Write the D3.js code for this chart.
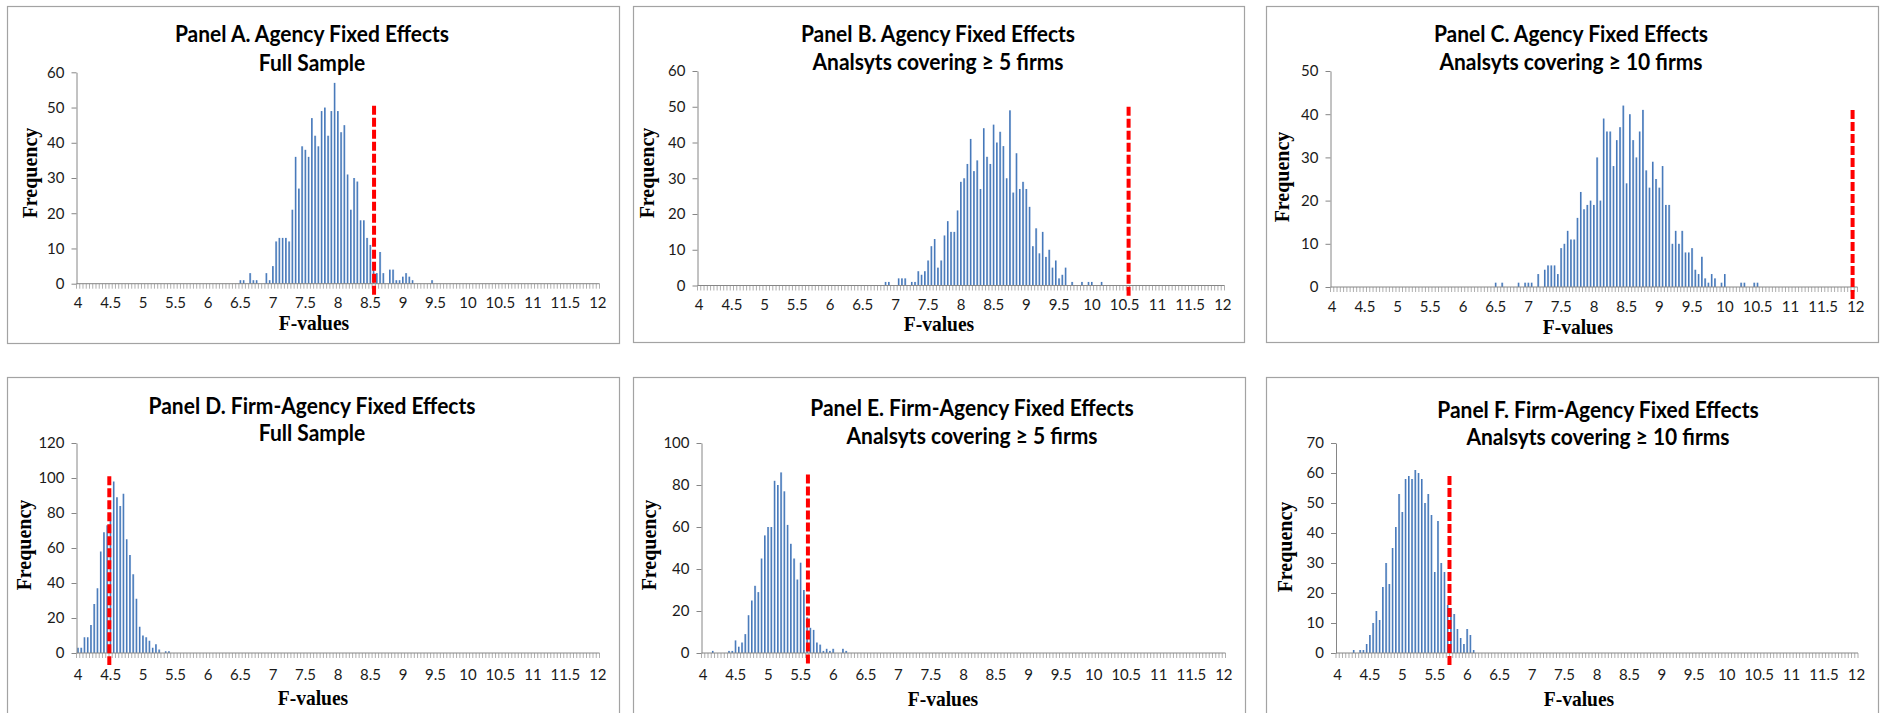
<!DOCTYPE html>
<html>
<head>
<meta charset="utf-8">
<script src="https://cdn.jsdelivr.net/npm/d3@7/dist/d3.min.js"></script>
<style>
	body { margin: 0; background: #ffffff; }
</style>
</head>
<body>
<div id="chart"></div>
<script>
// histogram bins: 4.00 ... 12.00, width 0.05 (161 categories)
var binStart = 4;
var binWidth = 0.05;
var binCount = 161;
var xTickLabels = ["4", "4.5", "5", "5.5", "6", "6.5", "7", "7.5", "8", "8.5", "9", "9.5", "10", "10.5", "11", "11.5", "12"];

var titles = [
	"Panel A. Agency Fixed Effects",
	"Panel B. Agency Fixed Effects",
	"Panel C. Agency Fixed Effects",
	"Panel D. Firm-Agency Fixed Effects",
	"Panel E. Firm-Agency Fixed Effects",
	"Panel F. Firm-Agency Fixed Effects"
];
var subtitles = [
	"Full Sample",
	"Analsyts covering \u2265 5 firms",
	"Analsyts covering \u2265 10 firms",
	"Full Sample",
	"Analsyts covering \u2265 5 firms",
	"Analsyts covering \u2265 10 firms"
];
var yMax = [60, 60, 50, 120, 100, 70];
var yStep = [10, 10, 10, 20, 20, 10];

// frequencies, listed from the first non-empty bin of each panel
var firstBin = [6.50, 6.85, 6.50, 4.00, 4.15, 4.25];
var countsA = [1, 1, 0, 3, 1, 1, 0, 0, 3, 1, 5, 12, 13, 13, 13, 12, 21, 36, 27, 39, 38, 36, 47, 42, 39, 49, 50, 42, 49, 57,
	49, 43, 45, 31, 21, 30, 29, 18, 18, 13, 11, 6, 3, 9, 3, 0, 4, 4, 1, 1, 2, 3, 2, 1, 0, 0, 0, 0, 0, 1];
var countsB = [1, 1, 0, 0, 2, 2, 2, 0, 1, 1, 4, 3, 4, 7, 11, 13, 5, 7, 14, 18, 15, 15, 21, 29, 30, 34, 41, 32, 35, 27,
	44, 36, 34, 45, 40, 43, 39, 30, 49, 26, 37, 27, 29, 27, 22, 11, 16, 9, 15, 8, 10, 5, 7, 2, 3, 5, 0, 1, 0, 0,
	1, 0, 1, 1, 0, 0, 1];
var countsC = [1, 0, 1, 0, 0, 0, 0, 1, 0, 1, 1, 1, 0, 3, 0, 4, 5, 5, 5, 3, 9, 10, 13, 11, 11, 16, 22, 18, 19, 20,
	19, 30, 20, 39, 36, 36, 28, 34, 37, 42, 24, 40, 34, 30, 36, 41, 27, 23, 29, 25, 23, 28, 19, 19, 10, 13, 10, 13, 8, 8,
	9, 4, 3, 7, 2, 1, 3, 2, 0, 1, 3, 0, 0, 0, 0, 1, 1, 0, 0, 1, 1];
var countsD = [3, 3, 9, 9, 16, 28, 37, 58, 69, 73, 80, 98, 89, 84, 91, 65, 56, 45, 31, 15, 10, 9, 7, 3, 5, 2, 0, 1, 1];
var countsE = [1, 0, 0, 0, 0, 1, 1, 6, 3, 5, 9, 18, 25, 32, 29, 45, 56, 60, 60, 82, 80, 86, 77, 61, 52, 45, 35, 43, 30, 17,
	12, 11, 5, 4, 1, 2, 1, 2, 0, 0, 2, 1];
var countsF = [1, 0, 1, 1, 3, 6, 10, 14, 11, 22, 30, 23, 35, 42, 53, 47, 58, 59, 58, 61, 60, 58, 50, 53, 46, 27, 44, 30, 27, 16,
	15, 13, 8, 5, 3, 8, 6, 1];
var allCounts = [countsA, countsB, countsC, countsD, countsE, countsF];

// actual F-value (red dashed marker) and the height it is drawn to
var criticalF = [8.555, 10.56, 11.95, 4.48, 5.61, 5.725];
var criticalTop = [50.5, 50, 41, 101, 85, 59];

// placement of each panel on the page
var layout = [
	{ box: [7, 6, 612, 337], plot: [76.5, 72.3, 283.7], width: 523, title: [312, 33, 62], labelY: 303, fv: [314, 323], freq: [30, 173] },
	{ box: [633, 6, 611, 336], plot: [697.5, 71, 285.5], width: 527, title: [938, 33, 61], labelY: 304.5, fv: [939, 324], freq: [647, 173] },
	{ box: [1266, 6, 612, 336], plot: [1330.5, 71, 287], width: 527, title: [1571, 33, 61], labelY: 307, fv: [1578, 327], freq: [1282, 177] },
	{ box: [7, 377, 612, 400], plot: [76.5, 443, 653], width: 523, title: [312, 405, 432], labelY: 675, fv: [313, 698], freq: [24, 545] },
	{ box: [633, 377, 612, 400], plot: [701.5, 443, 653], width: 524, title: [972, 407, 435], labelY: 675, fv: [943, 699], freq: [649, 545] },
	{ box: [1266, 377, 612, 400], plot: [1336, 443, 653], width: 522, title: [1598, 409, 436], labelY: 675, fv: [1579, 699], freq: [1285, 547] }
];

var svg = d3.select("#chart")
	.append("svg")
	.attr("width", 1883)
	.attr("height", 713);

var grad = svg.append("defs")
	.append("linearGradient")
	.attr("id", "barFill")
	.attr("x1", 0).attr("x2", 1).attr("y1", 0).attr("y2", 0);
grad.append("stop").attr("offset", "0%").attr("stop-color", "#3d6db3");
grad.append("stop").attr("offset", "55%").attr("stop-color", "#4f81bd");
grad.append("stop").attr("offset", "100%").attr("stop-color", "#a7c1e6");

var bins = d3.range(binCount);

for (var p = 0; p < 6; p++) {
	drawPanel(p);
}

function drawPanel(p) {
	var L = layout[p];
	var g = svg.append("g").attr("class", "panel");

	// frame
	g.append("rect")
		.attr("x", L.box[0] + 0.5)
		.attr("y", L.box[1] + 0.5)
		.attr("width", L.box[2])
		.attr("height", L.box[3])
		.attr("fill", "none")
		.attr("stroke", "#a3a3a3")
		.attr("stroke-width", 1.2);

	// full series for the 161 bins
	var offset = Math.round((firstBin[p] - binStart) / binWidth);
	var series = bins.map(function(i) {
		var k = i - offset;
		return (k >= 0 && k < allCounts[p].length) ? allCounts[p][k] : 0;
	});

	var left = L.plot[0];
	var right = left + L.width;
	var x = d3.scaleBand().domain(bins).range([left, right]).padding(0);
	var xv = d3.scaleLinear()
		.domain([binStart - binWidth / 2, binStart + (binCount - 0.5) * binWidth])
		.range([left, right]);
	var y = d3.scaleLinear().domain([0, yMax[p]]).range([L.plot[2], L.plot[1]]);
	var bw = x.bandwidth();
	var barW = bw * 0.58;

	// bars
	g.selectAll(".bar")
		.data(series.map(function(v, i) { return { i: i, v: v }; }).filter(function(d) { return d.v > 0; }))
		.join("rect")
		.attr("class", "bar")
		.attr("x", function(d) { return x(d.i) + (bw - barW) / 2; })
		.attr("y", function(d) { return y(d.v); })
		.attr("width", barW)
		.attr("height", function(d) { return y(0) - y(d.v); })
		.attr("fill", "url(#barFill)");

	// y axis
	var yAxis = g.append("g")
		.attr("transform", `translate(${left},0)`)
		.call(d3.axisLeft(y)
			.tickValues(d3.range(0, yMax[p] + 1, yStep[p]))
			.tickSize(5)
			.tickSizeOuter(0)
			.tickPadding(7));
	yAxis.select(".domain").attr("stroke", "#868686");
	yAxis.selectAll(".tick line").attr("stroke", "#868686");
	yAxis.selectAll("text")
		.style("font-family", "Lato, 'Open Sans', sans-serif")
		.style("font-size", "15px")
		.attr("fill", "#1a1a1a");

	// x axis: labels every 10 bins, small ticks between every bin
	var labelPad = L.labelY - L.plot[2] - 5.5;
	var xAxis = g.append("g")
		.attr("transform", `translate(0,${L.plot[2]})`)
		.call(d3.axisBottom(x)
			.tickValues(bins.filter(function(i) { return i % 10 === 0; }))
			.tickFormat(function(i) { return xTickLabels[i / 10]; })
			.tickSize(0)
			.tickPadding(labelPad));
	xAxis.select(".domain").remove();
	xAxis.selectAll("text")
		.style("font-family", "Lato, 'Open Sans', sans-serif")
		.style("font-size", "15px")
		.attr("fill", "#1a1a1a");

	g.selectAll(".minor")
		.data(d3.range(binCount + 1))
		.join("line")
		.attr("class", "minor")
		.attr("x1", function(i) { return left + i * bw; })
		.attr("x2", function(i) { return left + i * bw; })
		.attr("y1", L.plot[2])
		.attr("y2", L.plot[2] + 5)
		.attr("stroke", "#a6a6a6")
		.attr("stroke-width", 0.9);

	g.append("line")
		.attr("x1", left)
		.attr("x2", right)
		.attr("y1", L.plot[2])
		.attr("y2", L.plot[2])
		.attr("stroke", "#868686")
		.attr("stroke-width", 1);

	// red dashed marker
	g.append("line")
		.attr("x1", xv(criticalF[p]))
		.attr("x2", xv(criticalF[p]))
		.attr("y1", y(criticalTop[p]))
		.attr("y2", L.plot[2] + 12)
		.attr("stroke", "#ff0000")
		.attr("stroke-width", 4)
		.attr("stroke-dasharray", "9,3");

	// titles (the source text is slightly stretched vertically)
	[titles[p], subtitles[p]].forEach(function(t, k) {
		g.append("text")
			.attr("transform", `translate(${L.title[0]},${L.title[k + 1]}) scale(1,1.12)`)
			.attr("text-anchor", "middle")
			.attr("dominant-baseline", "central")
			.style("font-family", "Lato, sans-serif")
			.style("font-weight", "bold")
			.style("font-size", "21px")
			.attr("fill", "#000")
			.text(t);
	});

	// axis titles
	g.append("text")
		.attr("transform", `translate(${L.fv[0]},${L.fv[1]}) scale(1,1.05)`)
		.attr("text-anchor", "middle")
		.attr("dominant-baseline", "central")
		.style("font-family", "'Liberation Serif', 'Times New Roman', serif")
		.style("font-weight", "bold")
		.style("font-size", "19.5px")
		.text("F-values");
	g.append("text")
		.attr("transform", `translate(${L.freq[0]},${L.freq[1]}) rotate(-90) scale(1,1.1)`)
		.attr("text-anchor", "middle")
		.attr("dominant-baseline", "central")
		.style("font-family", "'Liberation Serif', 'Times New Roman', serif")
		.style("font-weight", "bold")
		.style("font-size", "20px")
		.text("Frequency");
}
</script>
</body>
</html>
